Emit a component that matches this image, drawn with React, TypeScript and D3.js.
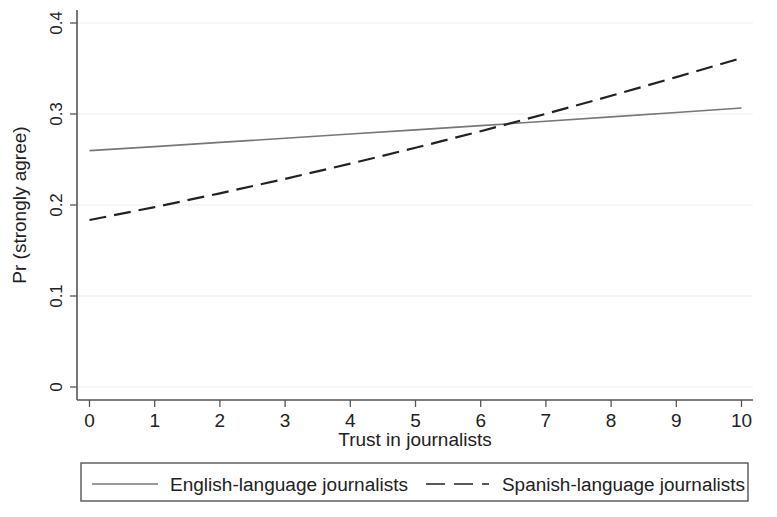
import React from "react";
import * as d3 from "d3";

const trust = [0, 1, 2, 3, 4, 5, 6, 7, 8, 9, 10];
const english = [0.2597, 0.2642, 0.2688, 0.2734, 0.2780, 0.2826, 0.2872, 0.2920, 0.2968, 0.3016, 0.3066];
const spanish = [0.1835, 0.1977, 0.2128, 0.2287, 0.2454, 0.2629, 0.2811, 0.3002, 0.3200, 0.3405, 0.3615];
const yTicks = [0, 0.1, 0.2, 0.3, 0.4];
const yTickLabels = ["0", "0.1", "0.2", "0.3", "0.4"];
const xTicks = [0, 1, 2, 3, 4, 5, 6, 7, 8, 9, 10];
const seriesNames = ["English-language journalists", "Spanish-language journalists"];

const W = 777;
const H = 517;
const FONT = "'Liberation Sans', Arial, Helvetica, sans-serif";

export default function App() {
  const left = 77, right = 753, top = 10, bottom = 400;
  const x = d3.scaleLinear().domain([0, 10]).range([89.5, 741.5]);
  const y = d3.scaleLinear().domain([0, 0.4]).range([387, 23]);
  const line = d3.line<number>().x((_, i) => x(trust[i])).y((d) => y(d));

  return (
    <div style={{ position: "absolute", left: 0, top: 0 }}>
      <svg width={W} height={H} style={{ display: "block", background: "#fff" }} fontFamily={FONT}>
        {yTicks.map((t) => (
          <line key={"g" + t} x1={left} x2={right} y1={y(t)} y2={y(t)} stroke="#e6eff1" strokeWidth={1.2} />
        ))}
        {/* axes */}
        <line x1={left} x2={left} y1={top} y2={bottom} stroke="#555" strokeWidth={1.6} />
        <line x1={left} x2={right} y1={bottom} y2={bottom} stroke="#555" strokeWidth={1.6} />
        {yTicks.map((t, i) => (
          <g key={"yt" + t}>
            <line x1={70} x2={left} y1={y(t)} y2={y(t)} stroke="#555" strokeWidth={1.3} />
            <text
              transform={`translate(61.5,${y(t)}) rotate(-90)`}
              textAnchor="middle"
              fontSize={17}
              fill="#222"
            >
              {yTickLabels[i]}
            </text>
          </g>
        ))}
        {xTicks.map((t) => (
          <g key={"xt" + t}>
            <line x1={x(t)} x2={x(t)} y1={bottom} y2={407} stroke="#555" strokeWidth={1.3} />
            <text x={x(t)} y={427} textAnchor="middle" fontSize={19} fill="#222">
              {t}
            </text>
          </g>
        ))}
        <text x={415} y={446} textAnchor="middle" fontSize={19} fill="#222">
          Trust in journalists
        </text>
        <text transform="translate(26,205) rotate(-90)" textAnchor="middle" fontSize={19} fill="#222">
          Pr (strongly agree)
        </text>
        {/* lines */}
        <path d={line(english) || ""} fill="none" stroke="#777" strokeWidth={1.6} />
        <path d={line(spanish) || ""} fill="none" stroke="#222" strokeWidth={2.2} strokeDasharray="17 8" />
        {/* legend */}
        <rect x={81} y={463} width={667} height={38} fill="#fff" stroke="#555" strokeWidth={1.4} />
        <line x1={92} x2={158} y1={484} y2={484} stroke="#777" strokeWidth={1.6} />
        <text x={170} y={491} fontSize={18} fill="#222" textLength={238} lengthAdjust="spacingAndGlyphs">
          {seriesNames[0]}
        </text>
        <line x1={426} x2={489} y1={484} y2={484} stroke="#222" strokeWidth={1.6} strokeDasharray="19 9" />
        <text x={502} y={491} fontSize={18} fill="#222" textLength={243} lengthAdjust="spacingAndGlyphs">
          {seriesNames[1]}
        </text>
      </svg>
    </div>
  );
}
